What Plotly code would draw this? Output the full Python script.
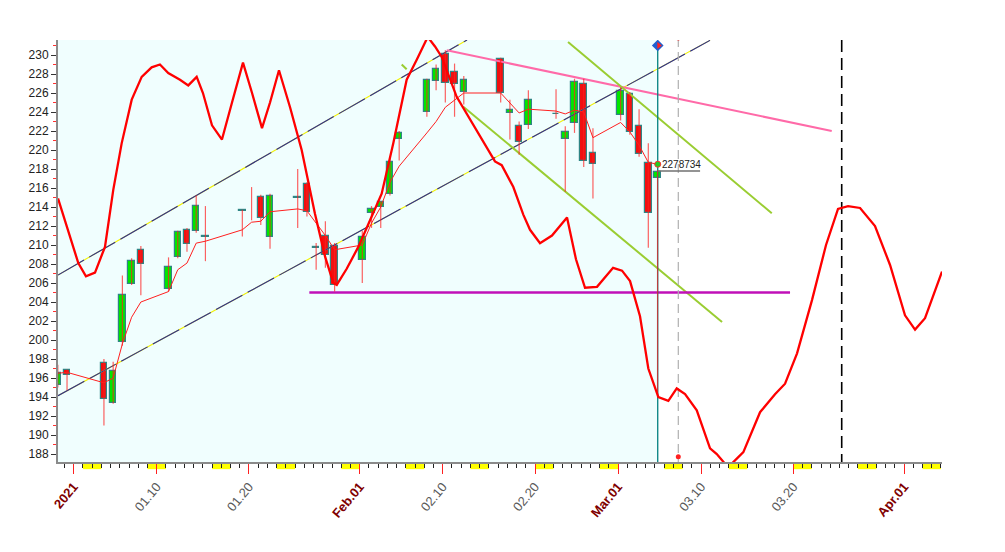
import plotly.graph_objects as go
import pandas as pd

# ---------------- data ----------------
dates = ["2020-12-30", "2020-12-31", "2021-01-04", "2021-01-05", "2021-01-06", "2021-01-07", "2021-01-08",
         "2021-01-11", "2021-01-12", "2021-01-13", "2021-01-14", "2021-01-15",
         "2021-01-19", "2021-01-20", "2021-01-21", "2021-01-22",
         "2021-01-25", "2021-01-26", "2021-01-27", "2021-01-28", "2021-01-29",
         "2021-02-01", "2021-02-02", "2021-02-03", "2021-02-04", "2021-02-05",
         "2021-02-08", "2021-02-09", "2021-02-10", "2021-02-11", "2021-02-12",
         "2021-02-16", "2021-02-17", "2021-02-18", "2021-02-19",
         "2021-02-22", "2021-02-23", "2021-02-24", "2021-02-25", "2021-02-26",
         "2021-03-01", "2021-03-02", "2021-03-03", "2021-03-04", "2021-03-05"]
opens = [195.3, 196.8, 197.6, 193.4, 199.8, 205.9, 209.5,
         205.4, 208.7, 211.6, 211.5, 210.9,
         213.6, None, 215.1, 210.8,
         215.0, 216.4, 209.7, 210.9, 209.9,
         208.4, 213.4, 214.0, 215.4, 221.2,
         224.0, 227.3, 230.1, 228.2, 226.1,
         229.6, 223.9, 222.5, 222.6,
         223.8, 221.2, 222.8, 226.9, 219.7,
         223.7, 225.9, 222.5, 218.6, 217.1]
highs = [197.4, 196.9, 198.0, 197.7, 206.8, 208.6, 209.9,
         208.7, 211.5, 211.8, 215.2, 214.1,
         213.7, 216.1, 215.3, 215.4,
         218.0, 216.6, 210.2, 212.5, 210.2,
         211.5, 214.1, 214.6, 219.3, 222.0,
         227.5, 229.0, 230.5, 229.1, 227.8,
         229.7, 225.3, 223.0, 226.3,
         226.4, 222.5, 227.5, 227.5, 222.3,
         226.6, 226.1, 224.3, 220.7, 217.9]
lows = [195.0, 194.7, 191.0, 193.3, 199.4, 205.8, 204.7,
        205.1, 208.6, 209.3, 211.3, 208.3,
        210.9, 212.6, 212.1, 209.6,
        211.8, 213.0, 207.4, 207.6, 205.1,
        206.0, 211.8, 211.8, 215.2, 218.9,
        223.5, 226.3, 225.0, 223.5, 224.8,
        225.0, 221.1, 219.5, 222.2,
        223.3, 215.6, 221.8, 218.2, 214.9,
        223.1, 221.6, 219.3, 209.7, 194.0]
closes = [196.5, 196.3, 193.8, 196.7, 204.7, 208.3, 208.0,
          207.7, 211.4, 210.1, 214.1, 210.85,
          213.55, None, 212.8, 215.2,
          214.95, 213.5, 209.65, 208.9, 205.8,
          210.8, 213.8, 214.5, 218.7, 221.8,
          227.4, 228.5, 227.1, 226.9, 227.4,
          226.0, 224.2, 220.8, 225.3,
          223.75, 221.9, 227.2, 218.8, 218.5,
          226.2, 221.9, 219.6, 213.4, 217.7]
ma_line = [196.5, 196.6, 195.5, 196.0, 199.6, 202.4, 204.0,
           205.1, 207.4, 208.1, 210.2, 210.4,
           211.6, 212.4, 212.5, 213.5,
           213.8, 213.6, 212.3, 211.0, 209.5,
           210.0, 212.3, 214.0, 216.6, 218.3,
           221.8, 223.0, 224.5, 225.3, 226.0,
           226.0, 224.9, 223.9, 224.3,
           224.1, 223.8, 224.2, 224.0, 221.3,
           222.9, 221.9, 220.5, 218.7, 218.5]

# cycle curve: days after 2021-01-01 and values
cycle_day = [-1.70, -0.40, 0.50, 1.33, 2.31, 3.39, 4.29, 5.20, 6.29, 7.37, 8.45, 9.35, 10.25, 11.52,
             12.42, 13.33, 14.01, 14.99, 16.07, 17.16, 18.35, 19.33, 20.41, 21.28, 22.25, 23.45,
             24.71, 26.15, 27.24, 28.14, 28.51, 29.59, 30.85, 32.12, 33.38, 34.64, 36.09, 37.18,
             38.37, 39.16, 39.89, 41.51, 42.95, 44.40, 45.66, 46.39, 47.65, 48.73, 49.46, 50.54,
             51.84, 53.47, 54.44, 55.42, 56.72, 58.46, 59.43, 60.30, 61.38, 62.28, 63.37, 64.45,
             65.36, 66.26, 67.53, 68.97, 69.70, 70.92, 72.58, 74.39, 76.01, 77.10, 78.40, 80.02,
             81.54, 82.84, 83.93, 85.23, 86.85, 88.48, 90.10, 91.19, 92.27, 94.11]
cycle_val = [214.9, 210.9, 208.1, 206.7, 207.1, 209.8, 215.8, 220.7, 225.3, 227.7, 228.7, 229.0, 228.1, 227.4,
             226.8, 227.7, 226.0, 222.6, 221.1, 225.0, 229.2, 226.0, 222.3, 225.0, 228.4, 224.5,
             220.0, 213.3, 208.8, 206.0, 205.8, 207.5, 209.8, 212.6, 215.4, 220.7, 227.4, 229.5,
             231.9, 230.9, 229.8, 225.6, 223.2, 220.9, 218.8, 218.4, 216.1, 213.2, 211.6, 210.2,
             211.0, 212.9, 208.5, 205.5, 205.6, 207.6, 207.3, 206.2, 202.5, 197.0, 194.0, 193.6,
             194.9, 194.3, 192.6, 188.6, 188.0, 186.6, 188.2, 192.4, 194.3, 195.4, 198.6, 204.2,
             210.0, 213.8, 214.1, 213.9, 212.0, 207.9, 202.6, 201.1, 202.3, 207.2]

# drawn trend lines (days after 2021-01-01, values)
upper_channel_day = [-1.70, 42.63]
upper_channel_val = [206.84, 231.58]
lower_channel_day = [-1.70, 68.97]
lower_channel_val = [194.14, 231.54]
pink_day = [40.43, 82.16]
pink_val = [230.5, 222.0]
green1_day = [53.58, 75.66]
green1_val = [231.37, 213.34]
green2_day = [42.23, 70.27]
green2_val = [224.56, 201.9]
green2_stub_day = [35.55, 36.09]
green2_stub_val = [229.0, 228.5]
support_day = [25.54, 77.64]
support_val = [205.0, 205.0]
now_day = 63.30
future_day = 65.53
cycle_mark_day = 83.24
last_price_end_day = 67.89
last_price = 217.8
price_label = "2278734"

tick_dates = ["2021-01-01", "2021-01-10", "2021-01-20", "2021-02-01", "2021-02-10",
              "2021-02-20", "2021-03-01", "2021-03-10", "2021-03-20", "2021-04-01"]
tick_labels = ["2021", "01.10", "01.20", "Feb.01", "02.10", "02.20", "Mar.01", "03.10", "03.20", "Apr.01"]
tick_bold = [True, False, False, True, False, False, True, False, False, True]

# ---------------- helpers ----------------
BASE = pd.Timestamp("2021-01-01")
def d2x(d):
    return [BASE + pd.Timedelta(days=v) for v in d]

X0 = BASE + pd.Timedelta(days=-1.70)
X1 = BASE + pd.Timedelta(days=94.11)
Y0, Y1 = 187.16, 231.58

cx = [pd.Timestamp(d) + pd.Timedelta(hours=6.7) for d in dates]

fig = go.Figure()

# channels (navy with yellow dashes)
for dd, vv in [(upper_channel_day, upper_channel_val), (lower_channel_day, lower_channel_val)]:
    fig.add_trace(go.Scatter(x=d2x(dd), y=vv, mode="lines", line=dict(color="#f0f000", width=1.1),
                             hoverinfo="skip", showlegend=False))
    fig.add_trace(go.Scatter(x=d2x(dd), y=vv, mode="lines",
                             line=dict(color="#2a2a96", width=1.1, dash="30px,6px"),
                             hoverinfo="skip", showlegend=False))

fig.add_trace(go.Scatter(x=d2x(pink_day), y=pink_val, mode="lines", line=dict(color="#ff6aa8", width=2),
                         showlegend=False))
for dd, vv in [(green1_day, green1_val), (green2_day, green2_val), (green2_stub_day, green2_stub_val)]:
    fig.add_trace(go.Scatter(x=d2x(dd), y=vv, mode="lines", line=dict(color="#9acd32", width=2),
                             showlegend=False))
fig.add_trace(go.Scatter(x=d2x(support_day), y=support_val, mode="lines", line=dict(color="#c010b8", width=2.5),
                         showlegend=False))

# verticals
fig.add_trace(go.Scatter(x=d2x([now_day, now_day]), y=[231.0, Y0], mode="lines",
                         line=dict(color="#008080", width=1.3), showlegend=False))
fig.add_trace(go.Scatter(x=d2x([future_day, future_day]), y=[231.8, Y0], mode="lines",
                         line=dict(color="#b0b0b0", width=1.2, dash="9px,5px"), showlegend=False))
fig.add_trace(go.Scatter(x=d2x([cycle_mark_day, cycle_mark_day]), y=[Y1, Y0], mode="lines",
                         line=dict(color="#000000", width=1.6, dash="12px,6px"), showlegend=False))

# moving average line
fig.add_trace(go.Scatter(x=cx, y=ma_line, mode="lines", line=dict(color="#ff2020", width=1),
                         showlegend=False))

# wicks
wx, wy = [], []
for x, h, l in zip(cx, highs, lows):
    wx += [x, x, None]
    wy += [l, h, None]
fig.add_trace(go.Scatter(x=wx, y=wy, mode="lines", line=dict(color="rgba(255,30,30,0.7)", width=1.2),
                         showlegend=False, hoverinfo="skip"))

# bodies
bx, bbase, bh, bcol = [], [], [], []
for x, o, c in zip(cx, opens, closes):
    if o is None or c is None:
        continue
    bx.append(x)
    bbase.append(min(o, c))
    bh.append(max(abs(c - o), 0.09))
    if abs(c - o) < 0.08:
        bcol.append("#2f8f8f")
    else:
        bcol.append("#00e600" if c > o else "#f01010")
fig.add_trace(go.Bar(x=bx, y=bh, base=bbase, width=0.7 * 86400000,
                     marker=dict(color=bcol, line=dict(color="#2f8585", width=1.2)),
                     showlegend=False))

# cycle curve
fig.add_trace(go.Scatter(x=d2x(cycle_day), y=cycle_val, mode="lines", line=dict(color="#ff0000", width=2.3),
                         showlegend=False))

# last price marks
fig.add_trace(go.Scatter(x=d2x([now_day, last_price_end_day]), y=[last_price, last_price], mode="lines",
                         line=dict(color="#707070", width=1.5), showlegend=False))
fig.add_trace(go.Scatter(x=d2x([now_day]), y=[ma_line[-1]], mode="markers",
                         marker=dict(color="#22cc22", size=6, line=dict(color="#ff3030", width=1)),
                         showlegend=False))
fig.add_trace(go.Scatter(x=d2x([now_day]), y=[231.0], mode="markers",
                         marker=dict(symbol="diamond", color="#1f5fd0", size=9, line=dict(width=0)),
                         showlegend=False))
fig.add_trace(go.Scatter(x=d2x([now_day + 0.12]), y=[231.0], mode="markers",
                         marker=dict(symbol="triangle-right", color="#ff2020", size=6, line=dict(width=0)),
                         showlegend=False))
fig.add_trace(go.Scatter(x=d2x([future_day, future_day]), y=[231.8, 187.7], mode="markers",
                         marker=dict(color="#ff2020", size=5), showlegend=False))
fig.add_annotation(x=d2x([now_day + 0.2])[0], y=218.45, text=price_label, showarrow=False,
                   xanchor="left", yanchor="middle", font=dict(family="Liberation Sans, Arial", size=10, color="#222"))

# background (cyan up to "now" line)
shapes = [dict(type="rect", xref="x", yref="paper", x0=X0, x1=d2x([now_day])[0], y0=0, y1=1,
               fillcolor="#f0fefe", line=dict(width=0), layer="below")]
# weekend markers under the axis
for sat in pd.date_range("2020-12-26", "2021-04-05", freq="W-SAT"):
    s0 = max(sat, X0)
    s1 = min(sat + pd.Timedelta(days=2), X1)
    if s1 <= s0:
        continue
    shapes.append(dict(type="rect", xref="x", yref="paper", x0=s0, x1=s1, y0=-0.017, y1=0,
                       fillcolor="#ffff00", line=dict(width=0), layer="below"))

ticktext = []
for t, b in zip(tick_labels, tick_bold):
    if b:
        ticktext.append("<b><span style='color:#800000'>%s</span></b>" % t)
    else:
        ticktext.append("<span style='color:#5a5a5a'>%s</span>" % t)

fig.update_layout(
    width=1005, height=552,
    margin=dict(l=50, r=71, t=32, b=98),
    paper_bgcolor="white", plot_bgcolor="white",
    barmode="overlay", bargap=0,
    shapes=shapes,
    font=dict(family="Liberation Sans, Arial", size=12, color="#222"),
    xaxis=dict(type="date", range=[X0, X1], showgrid=False, zeroline=False,
               tickvals=tick_dates, ticktext=ticktext, tickangle=-50,
               ticks="outside", ticklen=10, tickcolor="#ff2020", tickwidth=1.3,
               tickfont=dict(size=13, family="Liberation Sans, Arial"),
               showline=True, linecolor="#8a8a8a", linewidth=2,
               minor=dict(dtick=86400000, tick0="2021-01-01", ticks="outside", ticklen=4,
                          tickcolor="#222", tickwidth=1),
               automargin=False),
    yaxis=dict(range=[Y0, Y1], showgrid=False, zeroline=False,
               tick0=188, dtick=2, ticks="outside", ticklen=5, tickcolor="#333", tickwidth=1,
               tickfont=dict(size=12, family="Liberation Sans, Arial", color="#222"),
               showline=True, linecolor="#8a8a8a", linewidth=2,
               minor=dict(dtick=1, tick0=188, ticks="outside", ticklen=3, tickcolor="#ff3030", tickwidth=1),
               automargin=False),
)

fig.write_html("out.html")
